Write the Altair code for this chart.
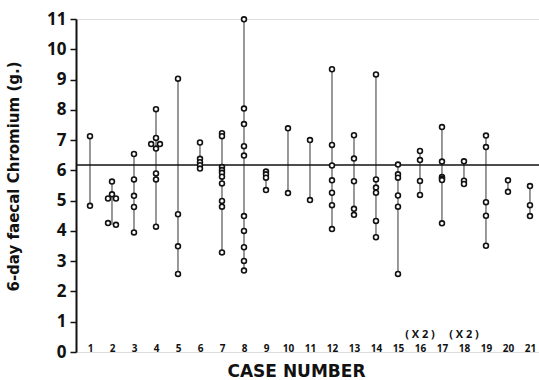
import altair as alt
import pandas as pd

# ---- data ----
cases = list(range(1, 22))
case_values = [
    [7.13, 4.83],                                             # 1
    [5.63, 5.21, 5.07, 5.07, 4.26, 4.20],                     # 2
    [6.54, 5.70, 5.16, 4.79, 3.95],                           # 3
    [8.02, 7.07, 6.87, 6.87, 6.72, 5.90, 5.70, 4.14],         # 4
    [9.03, 4.55, 3.49, 2.58],                                 # 5
    [6.92, 6.38, 6.27, 6.17, 6.06],                           # 6
    [7.23, 7.13, 6.11, 6.01, 5.92, 5.79, 5.57, 4.99, 4.80, 3.29],  # 7
    [10.99, 8.04, 7.53, 6.80, 6.49, 4.49, 4.00, 3.46, 3.01, 2.69],  # 8
    [5.96, 5.87, 5.76, 5.35],                                 # 9
    [7.39, 5.25],                                             # 10
    [7.00, 5.02],                                             # 11
    [9.34, 6.84, 6.16, 5.67, 5.26, 4.85, 4.06],               # 12
    [7.16, 6.39, 5.64, 4.73, 4.53],                           # 13
    [9.17, 5.70, 5.43, 5.26, 4.33, 3.79],                     # 14
    [6.19, 5.87, 5.76, 5.17, 4.80, 2.58],                     # 15
    [6.64, 6.34, 5.65, 5.19],                                 # 16
    [7.43, 6.29, 5.78, 5.73, 5.68, 4.25],                     # 17
    [6.30, 5.66, 5.55],                                       # 18
    [7.15, 6.77, 4.95, 4.50, 3.51],                           # 19
    [5.67, 5.29],                                             # 20
    [5.48, 4.85, 4.49],                                       # 21
]
# sideways displacement (in case units) of points drawn beside each other
case_offsets = {
    2: [0, 0, -0.18, 0.18, -0.18, 0.18],
    4: [0, 0, -0.22, 0.18, 0, 0, 0, 0],
}
mean_level = 6.18
y_ticks = list(range(0, 12))
dup_cases = [16, 18]
dup_labels = ["( X 2 )", "( X 2 )"]
dup_level = [0.56, 0.56]

# ---- tables ----
rows = []
for c, vals in zip(cases, case_values):
    offs = case_offsets.get(c, [0] * len(vals))
    for v, o in zip(vals, offs):
        rows.append({"xpos": c + o, "value": v})
pts = pd.DataFrame(rows)
rng = pd.DataFrame({"xpos": cases,
                    "value": [min(v) for v in case_values],
                    "hi": [max(v) for v in case_values]})
ref = pd.DataFrame({"value": [mean_level]})
ann = pd.DataFrame({"xpos": dup_cases, "value": dup_level, "label": dup_labels})

FONT = "Open Sans"
WIDE = "DejaVu Sans"
xscale = alt.Scale(domain=[0.364, 21.41], nice=False, zero=False)
yscale = alt.Scale(domain=[0, 11], nice=False, zero=True)

xaxis = alt.Axis(values=cases, format="d", domain=False, ticks=False, tickSize=0,
                 grid=False, labelFont=FONT, labelFontWeight="bold", labelFontSize=10,
                 labelColor="#111", labelBaseline="middle", labelPadding=-4,
                 labelFlush=False, labelOverlap=False,
                 titleFont=WIDE, titleFontWeight="bold", titleFontSize=17,
                 titleColor="#111", titleX=220, titleY=19, titleBaseline="middle",
                 titleAlign="center")
yaxis = alt.Axis(values=y_ticks, format="d", domain=True, domainColor="#111",
                 domainWidth=2, ticks=True, tickSize=6, tickWidth=1.5,
                 tickColor="#111", grid=False, labelFont=FONT,
                 labelFontWeight="bold", labelFontSize=17, labelColor="#111",
                 labelPadding=4, labelBaseline="middle",
                 titleFont=WIDE, titleFontWeight="bold", titleFontSize=15,
                 titleColor="#111", titleAngle=-90, titleX=-63, titleY=157,
                 titleBaseline="middle", titleAlign="center")

X = alt.X("xpos:Q", scale=xscale, axis=xaxis, title="CASE  NUMBER")
Y = alt.Y("value:Q", scale=yscale, axis=yaxis, title="6-day faecal Chromium (g.)")

lines = alt.Chart(rng).mark_rule(color="#333", strokeWidth=1).encode(
    x=X, y=Y, y2="hi:Q")
refline = alt.Chart(ref).mark_rule(color="#111", strokeWidth=1.5).encode(y=Y)
points = alt.Chart(pts).mark_point(shape="circle", filled=True, fill="white",
                                   stroke="#111", strokeWidth=1.6, size=24,
                                   opacity=1).encode(x=X, y=Y)
notes = alt.Chart(ann).mark_text(font=FONT, fontWeight="bold", fontSize=11,
                                 color="#111").encode(x=X, y=Y, text="label:N")

chart = alt.layer(lines, refline, points, notes).properties(
    width=463, height=333, autosize="none",
    padding={"left": 76, "top": 19, "right": 0, "bottom": 28},
).configure_view(stroke=None).configure(background="white")

chart.save("out.html", embed_options={"renderer": "svg", "actions": False})
